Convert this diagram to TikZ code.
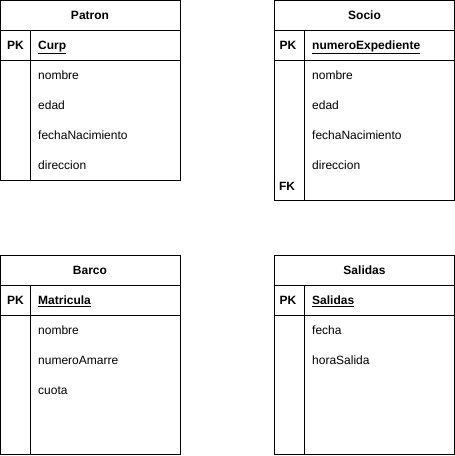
\documentclass[tikz,border=0pt]{standalone}
\usepackage{fontspec}
\setmainfont{Liberation Sans}
\begin{document}
\begin{tikzpicture}[x=1pt,y=-1pt,
  every node/.style={font=\fontsize{12}{14}\selectfont},
  tbl/.style={draw=black,line width=1pt,fill=white},
  ln/.style={draw=black,line width=1pt},
  head/.style={font=\fontsize{12}{14}\selectfont\bfseries,inner sep=0pt,anchor=base,yshift=-4.3pt},
  keytxt/.style={font=\fontsize{12}{14}\selectfont\bfseries,inner sep=0pt,anchor=base west,yshift=-4.3pt},
  pktxt/.style={font=\fontsize{12}{14}\selectfont\bfseries,inner sep=0pt,anchor=base,yshift=-4.3pt},
  attr/.style={inner sep=0pt,anchor=base west,yshift=-4.3pt}]
\useasboundingbox (0,0) rectangle (455,456);
\fill[white] (0,0) rectangle (455,456);

% Patron
\draw[tbl] (0.5,0.5) rectangle (180,180);
\draw[ln] (0.5,30) -- (180,30);
\draw[ln] (0.5,60) -- (180,60);
\draw[ln] (30,30) -- (30,180);
\node[head] (patronT) at (90,15) {Patron};
\node[pktxt] (patronPK) at (15.5,45) {PK};
\node[keytxt] (patronK) at (38,45) {\underline{Curp}};
\node[attr] (patronA1) at (38,75) {nombre};
\node[attr] (patronA2) at (38,105) {edad};
\node[attr] (patronA3) at (38,135) {fechaNacimiento};
\node[attr] (patronA4) at (38,165) {direccion};

% Socio
\draw[tbl] (274.5,0.5) rectangle (454.5,200);
\draw[ln] (274.5,30) -- (454.5,30);
\draw[ln] (274.5,60) -- (454.5,60);
\draw[ln] (304.5,30) -- (304.5,200);
\node[head] (socioT) at (364.5,15) {Socio};
\node[pktxt] (socioPK) at (288,45) {PK};
\node[keytxt] (socioK) at (312,45) {\underline{numeroExpediente}};
\node[attr] (socioA1) at (312,75) {nombre};
\node[attr] (socioA2) at (312,105) {edad};
\node[attr] (socioA3) at (312,135) {fechaNacimiento};
\node[attr] (socioA4) at (312,165) {direccion};
\node[pktxt] (socioFK) at (287,186) {FK};

% Barco
\draw[tbl] (0.5,255.5) rectangle (180,454.5);
\draw[ln] (0.5,285) -- (180,285);
\draw[ln] (0.5,315) -- (180,315);
\draw[ln] (30,285) -- (30,454.5);
\node[head] (barcoT) at (90,270) {Barco};
\node[pktxt] (barcoPK) at (15.5,300) {PK};
\node[keytxt] (barcoK) at (38,300) {\underline{Matricula}};
\node[attr] (barcoA1) at (38,330) {nombre};
\node[attr] (barcoA2) at (38,360) {numeroAmarre};
\node[attr] (barcoA3) at (38,390) {cuota};

% Salidas
\draw[tbl] (274.5,255.5) rectangle (454.5,454.5);
\draw[ln] (274.5,285) -- (454.5,285);
\draw[ln] (274.5,315) -- (454.5,315);
\draw[ln] (304.5,285) -- (304.5,454.5);
\node[head] (salidasT) at (364.5,270) {Salidas};
\node[pktxt] (salidasPK) at (288,300) {PK};
\node[keytxt] (salidasK) at (312,300) {\underline{Salidas}};
\node[attr] (salidasA1) at (312,330) {fecha};
\node[attr] (salidasA2) at (312,360) {horaSalida};
\end{tikzpicture}
\end{document}
